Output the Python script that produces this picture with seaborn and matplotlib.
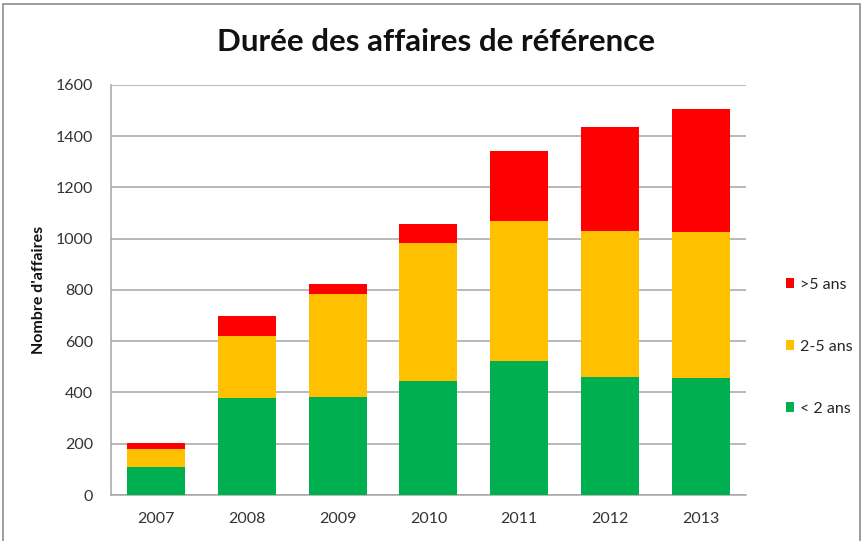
import pandas as pd
import matplotlib.pyplot as plt
import seaborn as sns
from matplotlib.patches import Patch, Rectangle

# values
YEARS = ["2007", "2008", "2009", "2010", "2011", "2012", "2013"]
LESS_2 = [109, 377, 382, 443, 521, 460, 455]
FROM_2_TO_5 = [72, 244, 401, 540, 550, 572, 572]
MORE_5 = [22, 79, 40, 73, 270, 402, 480]
SERIES_LABELS = ["< 2 ans", "2-5 ans", ">5 ans"]
SERIES_COLORS = ["#00B050", "#FFC000", "#FF0000"]

TITLE = "Durée des affaires de référence"
Y_LABEL = "Nombre d'affaires"
Y_TICKS = [0, 200, 400, 600, 800, 1000, 1200, 1400, 1600]


def main():
    sns.set_style("white")
    plt.rcParams["font.family"] = ["Lato", "DejaVu Sans"]

    df = pd.DataFrame({"year": YEARS, "lt2": LESS_2, "mid": FROM_2_TO_5, "gt5": MORE_5})
    df["c1"] = df["lt2"]
    df["c2"] = df["lt2"] + df["mid"]
    df["c3"] = df["c2"] + df["gt5"]

    fig = plt.figure(figsize=(8.67, 5.41), dpi=100)
    ax = fig.add_axes([0.128, 0.085, 0.7324, 0.758])

    # stacked bars: draw cumulative totals from top down
    for col, color in zip(["c3", "c2", "c1"], SERIES_COLORS[::-1]):
        sns.barplot(data=df, x="year", y=col, color=color, width=0.64,
                    saturation=1, linewidth=0, ax=ax, zorder=3)

    ax.set_ylim(0, 1600)
    ax.set_yticks(Y_TICKS)
    ax.set_xlim(-0.5, len(YEARS) - 0.5)
    ax.yaxis.grid(True, color="#A6A6A6", linewidth=1.1, zorder=0)
    ax.set_axisbelow(True)
    ax.set_xlabel("")
    ax.set_ylabel("")
    for s in ["top", "right"]:
        ax.spines[s].set_visible(False)
    for s in ["left", "bottom"]:
        ax.spines[s].set_color("#A6A6A6")
        ax.spines[s].set_linewidth(1.1)
    ax.tick_params(axis="both", length=0, labelsize=11.5, colors="#333333")
    ax.tick_params(axis="y", pad=13)
    ax.tick_params(axis="x", pad=12)

    fig.text(0.503, 0.922, TITLE, ha="center", va="center",
             fontsize=22.5, fontweight="bold", color="#111111")
    fig.text(0.045, 0.464, Y_LABEL, ha="center", va="center", rotation=90,
             fontsize=11.5, fontweight="bold", color="#111111")

    handles = [Patch(facecolor=c, edgecolor="none", label=l)
               for l, c in zip(SERIES_LABELS[::-1], SERIES_COLORS[::-1])]
    fig.legend(handles=handles, loc="center left", bbox_to_anchor=(0.906, 0.359),
               frameon=False, fontsize=11.5, labelspacing=3.0, handlelength=0.55,
               handleheight=0.55, handletextpad=0.35, borderpad=0, borderaxespad=0)

    # outer chart frame
    fig.patches.append(Rectangle((0.0035, -0.01), 0.9885, 1.0026, transform=fig.transFigure,
                                 fill=False, edgecolor="#8C8C8C", linewidth=1.2))

    fig.savefig("out.png", dpi=100)
    plt.close(fig)


if __name__ == "__main__":
    main()
